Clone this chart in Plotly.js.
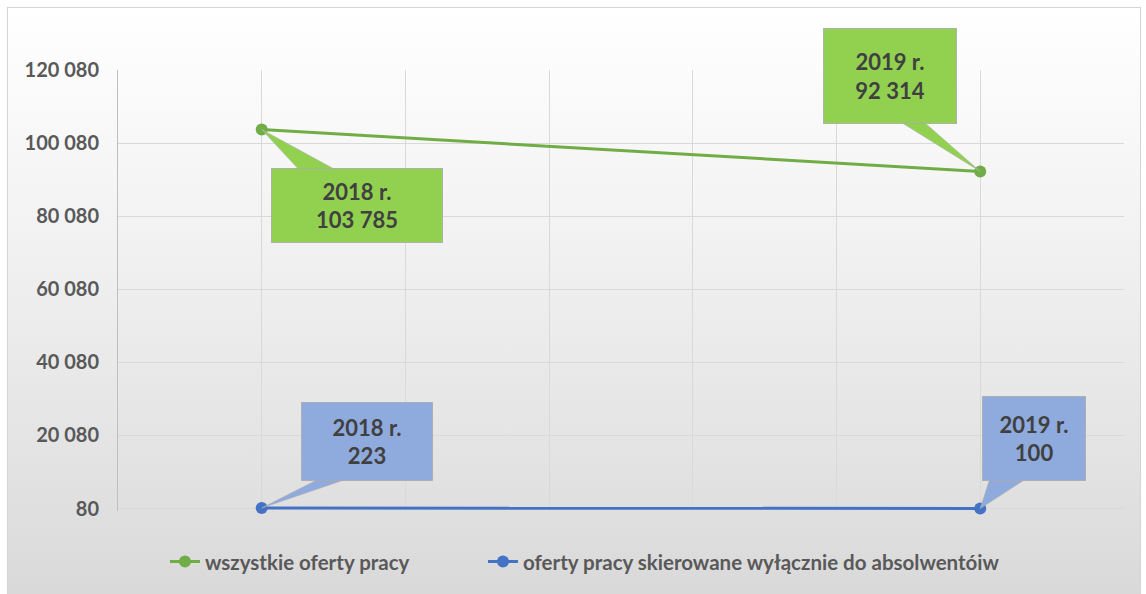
<!DOCTYPE html>
<html>
<head>
<meta charset="utf-8">
<script src="https://cdn.plot.ly/plotly-3.0.1.min.js"></script>
<style>
  html, body { margin: 0; padding: 0; background: #ffffff; }
  #wrap { position: relative; width: 1146px; height: 594px; overflow: hidden; }
  #bg { position: absolute; left: 7px; top: 7px; width: 1132px; height: 600px;
        border: 1px solid #d4d4d4;
        background: linear-gradient(to bottom, #ffffff 0%, #f3f3f3 35%, #e3e3e3 75%, #d8d8d8 100%); }
  #chart { position: absolute; left: 0; top: 0; width: 1146px; height: 594px; }
</style>
</head>
<body>
<div id="wrap">
  <div id="bg"></div>
  <div id="chart"></div>
</div>
<script>
// ---- data ----
const years = [2018, 2019];
const allOffers = [103785, 92314];
const graduateOffers = [223, 100];
const seriesNames = ['wszystkie oferty pracy', 'oferty pracy skierowane wyłącznie do absolwentóiw'];
const seriesColors = ['#70AD47', '#4472C4'];
const calloutFills = ['#92D050', '#8FAADC'];

function fmt(v) {
  return String(v).replace(/\B(?=(\d{3})+(?!\d))/g, ' ');
}

const FONT = 'Lato, Carlito, sans-serif';

const traces = [
  { x: years, y: allOffers, name: seriesNames[0], type: 'scatter', mode: 'lines+markers',
    line: { color: seriesColors[0], width: 3 }, marker: { color: seriesColors[0], size: 12 },
    cliponaxis: false, legend: 'legend' },
  { x: years, y: graduateOffers, name: seriesNames[1], type: 'scatter', mode: 'lines+markers',
    line: { color: seriesColors[1], width: 3 }, marker: { color: seriesColors[1], size: 12 },
    cliponaxis: false, legend: 'legend2' }
];

// callout geometry: pixel offsets from the data point (y measured downward)
// box: [left, top, right, bottom]; ptr: two base points of the pointer wedge
const callouts = [
  { s: 0, i: 0, box: [9, 38, 181, 113],    ptr: [[39, 42], [77, 42]] },
  { s: 0, i: 1, box: [-157, -143, -23, -47], ptr: [[-82, -51], [-58, -51]] },
  { s: 1, i: 0, box: [39, -106, 171, -27],  ptr: [[61, -31], [91, -31]] },
  { s: 1, i: 1, box: [2, -112, 106, -27],   ptr: [[10, -31], [48, -31]] }
];
const seriesData = [allOffers, graduateOffers];

const shapes = [];
const annotations = [];
callouts.forEach(c => {
  const xv = years[c.i];
  const yv = seriesData[c.s][c.i];
  const p = c.ptr;
  const path = 'M0,0 L' + p[0][0] + ',' + (-p[0][1]) + ' L' + p[1][0] + ',' + (-p[1][1]) + ' Z';
  shapes.push({
    type: 'path', xref: 'x', yref: 'y', xsizemode: 'pixel', ysizemode: 'pixel',
    xanchor: xv, yanchor: yv, path: path,
    fillcolor: calloutFills[c.s], line: { color: 'rgba(175,175,175,0.6)', width: 1 }, layer: 'above'
  });
  const b = c.box;
  annotations.push({
    x: xv, y: yv, xref: 'x', yref: 'y', showarrow: false,
    xanchor: 'center', yanchor: 'middle',
    xshift: (b[0] + b[2]) / 2, yshift: -(b[1] + b[3]) / 2,
    width: b[2] - b[0] - 2, height: b[3] - b[1] - 2,
    bgcolor: calloutFills[c.s], bordercolor: 'rgba(170,170,170,0.85)', borderwidth: 1, borderpad: 0,
    text: years[c.i] + ' r.<br>' + fmt(yv),
    font: { family: FONT, size: 22, color: '#404040', weight: 'bold' },
    align: 'center', valign: 'middle'
  });
});

const legendFont = { family: FONT, size: 20.5, color: '#595959', weight: 'bold' };

const layout = {
  width: 1146, height: 594,
  paper_bgcolor: 'rgba(0,0,0,0)', plot_bgcolor: 'rgba(0,0,0,0)',
  margin: { l: 118, r: 22, t: 70, b: 82.5 },
  separators: ', ',
  showlegend: true,
  xaxis: {
    type: 'linear', range: [2017.8, 2019.2001], tick0: 2017.8, dtick: 0.2,
    showticklabels: false, showgrid: true, gridcolor: '#d9d9d9', gridwidth: 1,
    zeroline: false, showline: false, ticks: ''
  },
  yaxis: {
    range: [-600, 120080], tick0: 80, dtick: 20000, tickformat: ',d',
    showgrid: true, gridcolor: '#d9d9d9', zeroline: false,
    showline: true, linecolor: '#bfbfbf', linewidth: 1,
    ticks: 'outside', ticklen: 14, tickcolor: 'rgba(0,0,0,0)',
    tickfont: { family: FONT, size: 20, color: '#595959', weight: 'bold' }
  },
  legend: {
    orientation: 'h', x: 0.0467, xanchor: 'left', y: -0.115, yanchor: 'middle',
    font: legendFont, bgcolor: 'rgba(0,0,0,0)'
  },
  legend2: {
    orientation: 'h', x: 0.3628, xanchor: 'left', y: -0.115, yanchor: 'middle',
    font: legendFont, bgcolor: 'rgba(0,0,0,0)'
  },
  shapes: shapes,
  annotations: annotations
};

Plotly.newPlot('chart', traces, layout, { displayModeBar: false, staticPlot: true });
</script>
</body>
</html>
